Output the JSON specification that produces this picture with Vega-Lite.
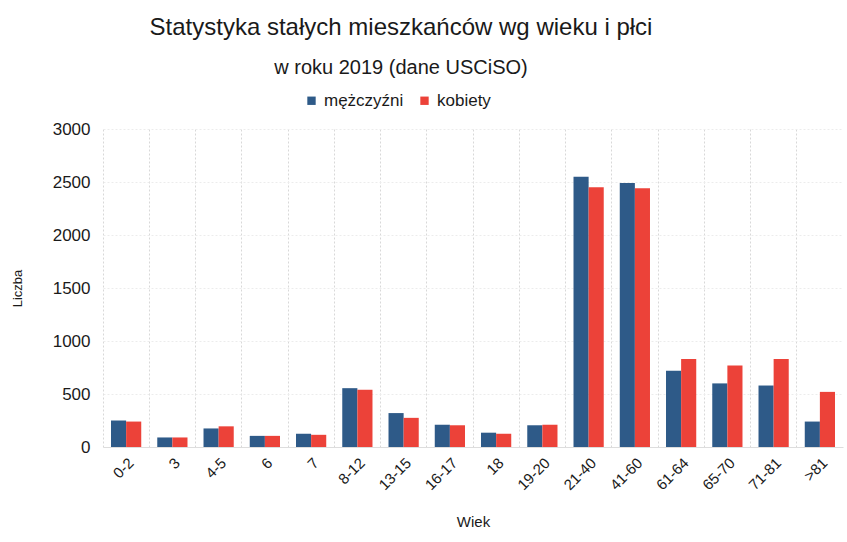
{
  "$schema": "https://vega.github.io/schema/vega-lite/v6.json",
  "autosize": {"type": "none"},
  "width": 740,
  "height": 318,
  "padding": {"left": 103, "top": 129, "right": 4, "bottom": 95},
  "background": "white",
  "title": {
    "text": "Statystyka stałych mieszkańców wg wieku i płci",
    "subtitle": "w roku 2019 (dane USCiSO)",
    "anchor": "middle",
    "dx": -72,
    "offset": 14,
    "font": "Liberation Sans",
    "fontSize": 24,
    "fontWeight": "normal",
    "color": "#1a1a1a",
    "subtitleFont": "Liberation Sans",
    "subtitleFontSize": 20,
    "subtitleColor": "#1a1a1a",
    "subtitlePadding": 18
  },
  "data": {
    "values": [
      {"wiek": "0-2", "plec": "mężczyźni", "liczba": 250},
      {"wiek": "0-2", "plec": "kobiety", "liczba": 240},
      {"wiek": "3", "plec": "mężczyźni", "liczba": 90},
      {"wiek": "3", "plec": "kobiety", "liczba": 90},
      {"wiek": "4-5", "plec": "mężczyźni", "liczba": 175},
      {"wiek": "4-5", "plec": "kobiety", "liczba": 195},
      {"wiek": "6", "plec": "mężczyźni", "liczba": 105},
      {"wiek": "6", "plec": "kobiety", "liczba": 105},
      {"wiek": "7", "plec": "mężczyźni", "liczba": 125},
      {"wiek": "7", "plec": "kobiety", "liczba": 115},
      {"wiek": "8-12", "plec": "mężczyźni", "liczba": 555},
      {"wiek": "8-12", "plec": "kobiety", "liczba": 540},
      {"wiek": "13-15", "plec": "mężczyźni", "liczba": 320},
      {"wiek": "13-15", "plec": "kobiety", "liczba": 275},
      {"wiek": "16-17", "plec": "mężczyźni", "liczba": 210},
      {"wiek": "16-17", "plec": "kobiety", "liczba": 205},
      {"wiek": "18", "plec": "mężczyźni", "liczba": 135},
      {"wiek": "18", "plec": "kobiety", "liczba": 125},
      {"wiek": "19-20", "plec": "mężczyźni", "liczba": 205},
      {"wiek": "19-20", "plec": "kobiety", "liczba": 210},
      {"wiek": "21-40", "plec": "mężczyźni", "liczba": 2550},
      {"wiek": "21-40", "plec": "kobiety", "liczba": 2450},
      {"wiek": "41-60", "plec": "mężczyźni", "liczba": 2490},
      {"wiek": "41-60", "plec": "kobiety", "liczba": 2440},
      {"wiek": "61-64", "plec": "mężczyźni", "liczba": 720},
      {"wiek": "61-64", "plec": "kobiety", "liczba": 830},
      {"wiek": "65-70", "plec": "mężczyźni", "liczba": 600},
      {"wiek": "65-70", "plec": "kobiety", "liczba": 770},
      {"wiek": "71-81", "plec": "mężczyźni", "liczba": 580},
      {"wiek": "71-81", "plec": "kobiety", "liczba": 830},
      {"wiek": ">81", "plec": "mężczyźni", "liczba": 240},
      {"wiek": ">81", "plec": "kobiety", "liczba": 520}
    ]
  },
  "mark": {"type": "bar"},
  "encoding": {
    "x": {
      "field": "wiek",
      "type": "nominal",
      "sort": null,
      "scale": {"paddingInner": 0, "paddingOuter": 0},
      "axis": {
        "title": "Wiek",
        "titleFont": "Liberation Sans",
        "titleFontSize": 15,
        "titleFontWeight": "normal",
        "titleColor": "#1a1a1a",
        "titlePadding": 22,
        "labelAngle": -45,
        "labelFont": "Liberation Sans",
        "labelFontSize": 15,
        "labelColor": "#1a1a1a",
        "labelPadding": 8,
        "ticks": false,
        "domain": true,
        "domainColor": "#dddddd",
        "grid": true,
        "bandPosition": 0,
        "gridColor": "#d8d8d8",
        "gridDash": [2, 2]
      }
    },
    "xOffset": {
      "field": "plec",
      "type": "nominal",
      "sort": ["mężczyźni", "kobiety"],
      "scale": {"paddingInner": 0, "paddingOuter": 0.53}
    },
    "y": {
      "field": "liczba",
      "type": "quantitative",
      "scale": {"domain": [0, 3000]},
      "axis": {
        "title": "Liczba",
        "titleFont": "Liberation Sans",
        "titleFontSize": 13,
        "titleFontWeight": "normal",
        "titleColor": "#1a1a1a",
        "titlePadding": 28,
        "values": [0, 500, 1000, 1500, 2000, 2500, 3000],
        "format": "d",
        "labelFont": "Liberation Sans",
        "labelFontSize": 17,
        "labelColor": "#1a1a1a",
        "labelPadding": 13,
        "ticks": false,
        "domain": false,
        "grid": true,
        "gridColor": "#ececec",
        "gridDash": [2, 2]
      }
    },
    "color": {
      "field": "plec",
      "type": "nominal",
      "sort": ["mężczyźni", "kobiety"],
      "scale": {"domain": ["mężczyźni", "kobiety"], "range": ["#2E5A88", "#EC4239"]},
      "legend": {
        "title": null,
        "orient": "none",
        "legendX": 200,
        "legendY": -37,
        "direction": "horizontal",
        "symbolType": "square",
        "symbolSize": 70,
        "labelFont": "Liberation Sans",
        "labelFontSize": 17,
        "labelColor": "#1a1a1a",
        "columnPadding": 12,
        "labelOffset": 4
      }
    }
  },
  "config": {"view": {"stroke": null}}
}
